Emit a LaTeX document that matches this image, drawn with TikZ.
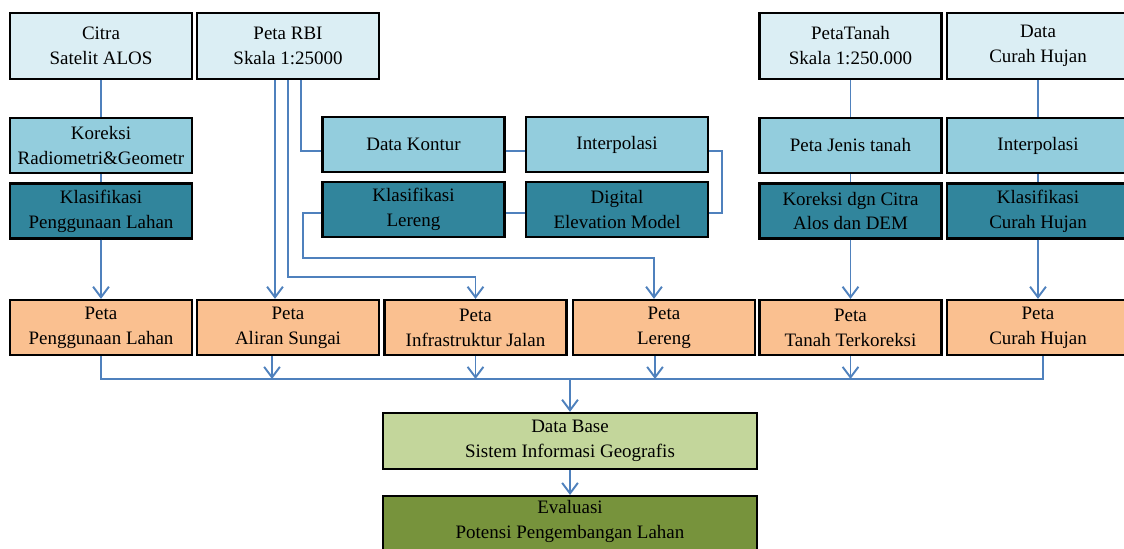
\documentclass[tikz,border=0pt]{standalone}
\usepackage{fontspec}
\setmainfont{Liberation Serif}
\usepackage{tikz}
\usetikzlibrary{arrows.meta, positioning, calc}
\definecolor{lineblue}{RGB}{79,129,189}
\definecolor{palecyan}{RGB}{219,238,244}
\definecolor{midcyan}{RGB}{147,205,221}
\definecolor{darkteal}{RGB}{49,133,156}
\definecolor{peach}{RGB}{250,192,144}
\definecolor{palegreen}{RGB}{195,214,155}
\definecolor{olive}{RGB}{119,147,60}
\tikzset{
  box/.style={rectangle, draw=black, line width=1.3pt, align=center,
    minimum width=3.64cm, minimum height=1.1cm, inner sep=1pt,
    font=\fontsize{10.8}{14.2}\selectfont},
  srcbox/.style={box, fill=palecyan, minimum height=1.32cm},
  procbox/.style={box, fill=midcyan},
  classbox/.style={box, fill=darkteal},
  mapbox/.style={box, fill=peach},
  dbbox/.style={box, fill=palegreen, minimum width=7.48cm, minimum height=1.12cm},
  evalbox/.style={box, fill=olive, minimum width=7.48cm, minimum height=1.4cm},
  arrow/.style={-{Straight Barb[length=6pt,width=9pt]}, line width=1.1pt, color=lineblue},
  line/.style={line width=1.1pt, color=lineblue}
}
\begin{document}
\begin{tikzpicture}[x=0.02cm, y=-0.02cm]
  \useasboundingbox (0,0) rectangle (1124,548);
  \clip (0,0) rectangle (1124,548);
  % sources
  \node[srcbox] (citra) at (101,46) {Citra\\Satelit ALOS};
  \node[srcbox] (rbi) at (288,46) {Peta RBI\\Skala 1:25000};
  \node[srcbox] (ptanah) at (850.5,46) {PetaTanah\\Skala 1:250.000};
  \node[srcbox] (dhujan) at (1038,46) {Data\\Curah Hujan};
  % processing
  \node[procbox] (koreksi) at (101,145.5) {Koreksi\\Radiometri\&Geometr};
  \node[classbox] (kguna) at (101,211) {Klasifikasi\\Penggunaan Lahan};
  \node[procbox] (kontur) at (413.5,144.5) {Data Kontur};
  \node[procbox] (interp) at (617,144.5) {Interpolasi};
  \node[classbox] (klereng) at (413.5,209.5) {Klasifikasi\\Lereng};
  \node[classbox] (dem) at (617,209.5) {Digital\\Elevation Model};
  \node[procbox] (jtanah) at (850.5,145.5) {Peta Jenis tanah};
  \node[procbox] (interph) at (1038,145.5) {Interpolasi};
  \node[classbox] (ktanah) at (850.5,211) {Koreksi dgn Citra\\Alos dan DEM};
  \node[classbox] (khujan) at (1038,211) {Klasifikasi\\Curah Hujan};
  % maps
  \node[mapbox] (pguna) at (101,327.5) {Peta\\Penggunaan Lahan};
  \node[mapbox] (psungai) at (288,327.5) {Peta\\Aliran Sungai};
  \node[mapbox] (pjalan) at (475.5,327.5) {Peta\\Infrastruktur Jalan};
  \node[mapbox] (plereng) at (664,327.5) {Peta\\Lereng};
  \node[mapbox] (ptanahk) at (850.5,327.5) {Peta\\Tanah Terkoreksi};
  \node[mapbox] (phujan) at (1038,327.5) {Peta\\Curah Hujan};
  % result
  \node[dbbox] (db) at (570,441) {Data Base\\Sistem Informasi Geografis};
  \node[evalbox, anchor=north] (ev) at (570,495) {};
  \node[font=\fontsize{10.8}{14.2}\selectfont, align=center] (evtext) at (570,521)
    {Evaluasi\\Potensi Pengembangan Lahan};
  \coordinate (jalanbend) at (288,277);
  \coordinate (lerengbend) at (303,258);
  \coordinate (bus) at (570,379);
  % left column
  \draw[line] (citra.south) -- (koreksi.north);
  \draw[line] (koreksi.south) -- (kguna.north);
  \draw[arrow] (kguna.south) -- (pguna.north);
  % RBI branches
  \draw[arrow] ([xshift=-0.26cm]rbi.south) -- ([xshift=-0.26cm]psungai.north);
  \draw[arrow] (rbi.south) |- (jalanbend) -| (pjalan.north);
  \draw[line] ([xshift=0.26cm]rbi.south) |- ([yshift=-0.13cm]kontur.west);
  \draw[line] ([yshift=-0.13cm]kontur.east) -- ([yshift=-0.13cm]interp.west);
  \draw[line] ([yshift=-0.13cm]interp.east) -- ++(13,0) |- ([yshift=-0.07cm]dem.east);
  \draw[line] ([yshift=-0.07cm]dem.west) -- ([yshift=-0.07cm]klereng.east);
  \draw[arrow] ([yshift=-0.07cm]klereng.west) -| (lerengbend) -| ([xshift=-0.2cm]plereng.north);
  % right columns
  \draw[line] (ptanah.south) -- (jtanah.north);
  \draw[line] (jtanah.south) -- (ktanah.north);
  \draw[arrow] (ktanah.south) -- (ptanahk.north);
  \draw[line] (dhujan.south) -- (interph.north);
  \draw[line] (interph.south) -- (khujan.north);
  \draw[arrow] (khujan.south) -- (phujan.north);
  % collecting line
  \draw[line] (pguna.south) |- (bus) -| ([xshift=0.1cm]phujan.south);
  \draw[arrow] ([xshift=-0.32cm]psungai.south) -- ([xshift=-0.32cm]psungai.south |- bus);
  \draw[arrow] (pjalan.south) -- (pjalan.south |- bus);
  \draw[arrow] ([xshift=-0.18cm]plereng.south) -- ([xshift=-0.18cm]plereng.south |- bus);
  \draw[arrow] (ptanahk.south) -- (ptanahk.south |- bus);
  \draw[arrow] (bus) -- (db.north);
  \draw[arrow] (db.south) -- (ev.north);
\end{tikzpicture}
\end{document}
